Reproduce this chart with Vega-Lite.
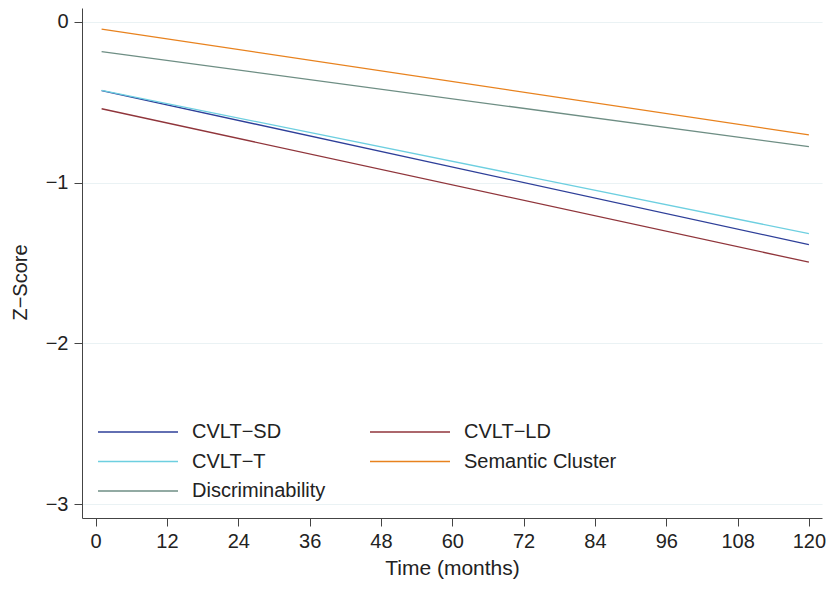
{
  "$schema": "https://vega.github.io/schema/vega-lite/v6.json",
  "width": 740,
  "height": 510,
  "autosize": {"type": "none"},
  "padding": {"left": 82, "top": 8, "right": 6, "bottom": 72},
  "background": "white",
  "config": {
    "font": "Liberation Sans",
    "view": {"stroke": null}
  },
  "data": {
    "values": [
      {"month": 1, "z": -0.427, "measure": "CVLT−SD"},
      {"month": 120, "z": -1.386, "measure": "CVLT−SD"},
      {"month": 1, "z": -0.54, "measure": "CVLT−LD"},
      {"month": 120, "z": -1.495, "measure": "CVLT−LD"},
      {"month": 1, "z": -0.425, "measure": "CVLT−T"},
      {"month": 120, "z": -1.317, "measure": "CVLT−T"},
      {"month": 1, "z": -0.044, "measure": "Semantic Cluster"},
      {"month": 120, "z": -0.703, "measure": "Semantic Cluster"},
      {"month": 1, "z": -0.185, "measure": "Discriminability"},
      {"month": 120, "z": -0.776, "measure": "Discriminability"}
    ]
  },
  "mark": {"type": "line", "strokeWidth": 1.3},
  "encoding": {
    "x": {
      "field": "month",
      "type": "quantitative",
      "scale": {"domain": [-2.3, 122.2], "nice": false, "zero": false},
      "axis": {
        "values": [0, 12, 24, 36, 48, 60, 72, 84, 96, 108, 120],
        "title": "Time (months)",
        "titleFontSize": 21,
        "titleFontWeight": "normal",
        "titleColor": "#222",
        "titlePadding": 6,
        "labelFontSize": 20,
        "labelColor": "#222",
        "labelPadding": 5,
        "tickSize": 8,
        "tickColor": "#444",
        "domainColor": "#444",
        "grid": false
      }
    },
    "y": {
      "field": "z",
      "type": "quantitative",
      "scale": {"domain": [-3.087, 0.087], "nice": false, "zero": false},
      "axis": {
        "values": [-3, -2, -1, 0],
        "title": "Z−Score",
        "titleFontSize": 20,
        "titleFontWeight": "normal",
        "titleColor": "#222",
        "titlePadding": 15,
        "titleY": 274,
        "labelFontSize": 20,
        "labelColor": "#222",
        "labelPadding": 6,
        "tickSize": 8,
        "tickColor": "#444",
        "domainColor": "#444",
        "grid": true,
        "gridColor": "#eaf2f4",
        "gridWidth": 1.2
      }
    },
    "color": {
      "field": "measure",
      "type": "nominal",
      "scale": {
        "domain": ["CVLT−SD", "CVLT−T", "Discriminability", "CVLT−LD", "Semantic Cluster"],
        "range": ["#2e3f99", "#6dcfe0", "#6e8e84", "#90353b", "#e8821e"]
      },
      "legend": {
        "title": null,
        "orient": "none",
        "legendX": 11,
        "legendY": 414,
        "columns": 2,
        "columnPadding": 39,
        "rowPadding": 9.5,
        "symbolType": "M-1,0H15",
        "symbolSize": 100,
        "symbolStrokeWidth": 1.5,
        "labelFontSize": 20,
        "labelColor": "#222",
        "labelOffset": 79,
        "padding": 0
      }
    }
  }
}
